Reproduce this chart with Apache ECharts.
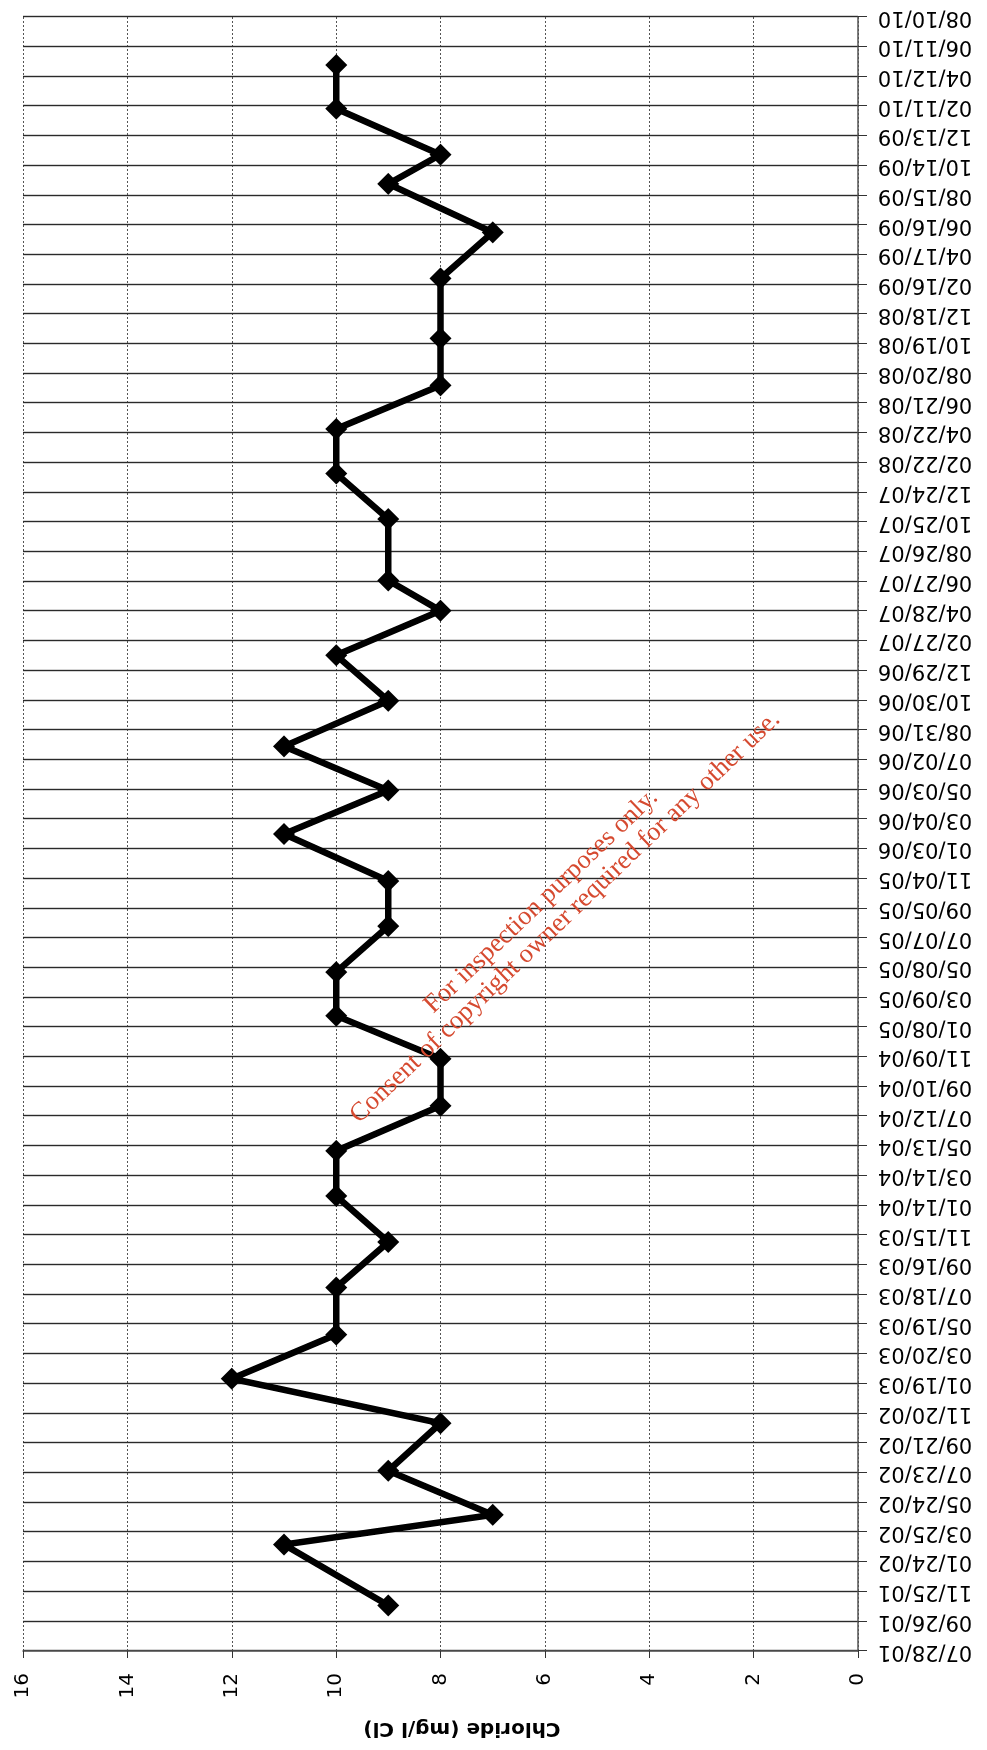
<!DOCTYPE html>
<html>
<head>
<meta charset="utf-8">
<script src="https://cdn.jsdelivr.net/npm/echarts@6/dist/echarts.min.js"></script>
<style>
html,body{margin:0;padding:0;width:987px;height:1750px;overflow:hidden;background:#fff;}
#wrap{position:absolute;left:0;top:0;width:1750px;height:987px;transform-origin:0 0;transform:translateY(1750px) rotate(-90deg);}
#chart{width:1750px;height:987px;}
.wm{position:absolute;white-space:nowrap;font-family:"Liberation Serif",serif;font-size:26.5px;line-height:1;color:#d64a30;transform:translate(-50%,-50%) rotate(-43.7deg);}
</style>
</head>
<body>
<div id="wrap"><div id="chart"></div></div>
<div class="wm" style="left:540px;top:900px;">For inspection purposes only.</div>
<div class="wm" style="left:564px;top:916px;">Consent of copyright owner required for any other use.</div>
<script>
// Date-axis tick labels (every 60 days starting 07/28/01)
var tickLabels = ["07/28/01","09/26/01","11/25/01","01/24/02","03/25/02","05/24/02","07/23/02","09/21/02","11/20/02","01/19/03","03/20/03","05/19/03","07/18/03","09/16/03","11/15/03","01/14/04","03/14/04","05/13/04","07/12/04","09/10/04","11/09/04","01/08/05","03/09/05","05/08/05","07/07/05","09/05/05","11/04/05","01/03/06","03/04/06","05/03/06","07/02/06","08/31/06","10/30/06","12/29/06","02/27/07","04/28/07","06/27/07","08/26/07","10/25/07","12/24/07","02/22/08","04/22/08","06/21/08","08/20/08","10/19/08","12/18/08","02/16/09","04/17/09","06/16/09","08/15/09","10/14/09","12/13/09","02/11/10","04/12/10","06/11/10","08/10/10"];
// Sample dates and chloride values (mg/l Cl)
var sampleDates = ["2001-10-28","2002-02-28","2002-04-29","2002-07-27","2002-10-31","2003-01-29","2003-04-28","2003-08-01","2003-11-01","2004-02-02","2004-05-03","2004-08-02","2004-11-05","2005-01-31","2005-04-29","2005-07-31","2005-10-30","2006-02-02","2006-05-01","2006-07-29","2006-10-29","2007-01-29","2007-04-29","2007-06-29","2007-10-31","2008-01-31","2008-04-30","2008-07-27","2008-10-30","2009-02-28","2009-06-01","2009-09-07","2009-11-05","2010-02-06","2010-05-05"];
var chloride = [9,11,7,9,8,12,10,10,9,10,10,8,8,10,10,9,9,11,9,11,9,10,8,9,9,10,10,8,8,8,7,9,8,10,10];
var valueTicks = [0,2,4,6,8,10,12,14,16];

var startDate = "2001-07-28";
var tickStepDays = 60;

function dayIndex(s){
  var p = s.split("-").map(Number);
  var b = startDate.split("-").map(Number);
  return Math.round((Date.UTC(p[0],p[1]-1,p[2]) - Date.UTC(b[0],b[1]-1,b[2]))/86400000);
}
var seriesData = sampleDates.map(function(d,i){ return [dayIndex(d), chloride[i]]; });

var chart = echarts.init(document.getElementById('chart'), null, {renderer:'canvas'});
chart.setOption({
  animation:false,
  backgroundColor:'#fff',
  grid:{left:99,right:17,top:23,bottom:129,containLabel:false},
  xAxis:{
    type:'value',
    min:0,
    max:(tickLabels.length-1)*tickStepDays,
    interval:tickStepDays,
    axisLine:{show:true,onZero:false,lineStyle:{color:'#555',width:1.5}},
    axisTick:{show:true,length:9,lineStyle:{color:'#333',width:1}},
    axisLabel:{
      rotate:90,margin:20,color:'#000',fontFamily:'DejaVu Sans',fontSize:21,
      showMinLabel:true,showMaxLabel:true,
      formatter:function(v){ return tickLabels[Math.round(v/tickStepDays)] || ''; }
    },
    splitLine:{show:true,lineStyle:{color:'#2a2a2a',width:1.4}}
  },
  yAxis:{
    type:'value',
    min:valueTicks[0],
    max:valueTicks[valueTicks.length-1],
    interval:valueTicks[1]-valueTicks[0],
    axisLine:{show:true,lineStyle:{color:'#555',width:1.5}},
    axisTick:{show:true,length:7,lineStyle:{color:'#333'}},
    axisLabel:{margin:22,color:'#000',fontFamily:'DejaVu Sans',fontSize:20},
    splitLine:{show:true,lineStyle:{color:'#555',width:1,type:[2,2]}}
  },
  graphic:[{
    type:'text',
    x:22,y:462,rotation:Math.PI/2,
    style:{text:'Chloride (mg/l Cl)',fontFamily:'DejaVu Sans',fontWeight:'bold',fontSize:20,fill:'#000',align:'center',verticalAlign:'middle'}
  }],
  series:[{
    type:'line',
    data:seriesData,
    symbol:'diamond',
    symbolSize:22,
    lineStyle:{color:'#000',width:6.5},
    itemStyle:{color:'#000'},
    z:5
  }]
});
</script>
</body>
</html>
